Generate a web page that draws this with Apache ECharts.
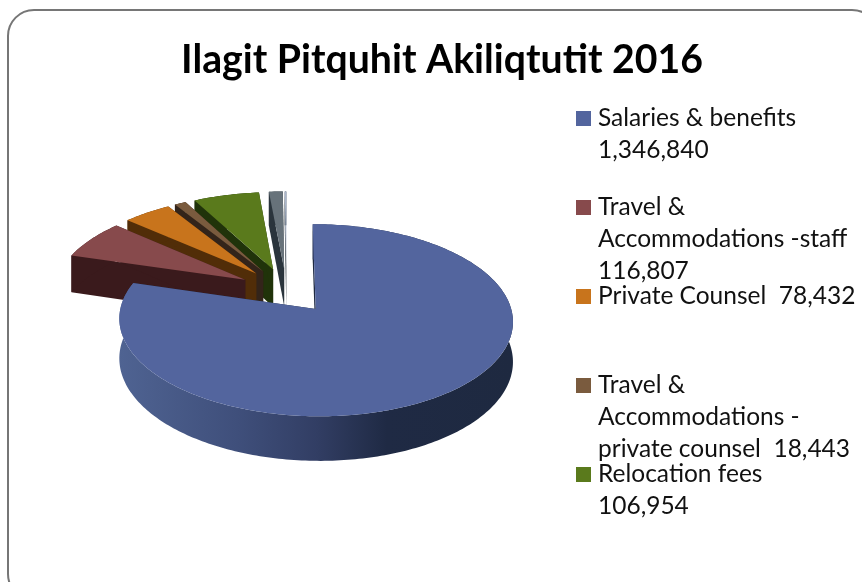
<!DOCTYPE html>
<html><head><meta charset="utf-8">
<style>html,body{margin:0;padding:0;background:#fff}#c{width:862px;height:582px}</style>
<script src="https://cdn.jsdelivr.net/npm/echarts@6/dist/echarts.min.js"></script>
</head><body><div id="c"></div>
<script>
// Data
const titleText = 'Ilagit Pitquhit Akiliqtutit 2016';
const categories = ['Salaries & benefits','Travel & Accommodations -staff','Private Counsel','Travel & Accommodations - private counsel','Relocation fees','Other','Other (small)'];
const values = [1346840,116807,78432,18443,106954,22500,2500];
const legendLines = [
  ['Salaries & benefits','1,346,840'],
  ['Travel &','Accommodations -staff','116,807'],
  ['Private Counsel  78,432'],
  ['Travel &','Accommodations -','private counsel  18,443'],
  ['Relocation fees','106,954']
];
const topColors = ['#53659e','#874a4c','#c8741c','#7a5b3e','#5a7a1c','#67727a','#aab6cc'];
const wallColors = ['#1f2a42','#3a1a1c','#512d08','#33241a','#20330a','#2a343c','#2a343c'];

// Projection of the tilted disc
const CX=286.5, CY=290.5, RX=191, RY=90.5, K=0.1137, DEPTH=38.5, EXPLODE=0.25;
const total = values.reduce((a,b)=>a+b,0);
const slices=[]; let acc=0;
values.forEach(v=>{const a0=acc/total*2*Math.PI; acc+=v; slices.push([a0,acc/total*2*Math.PI]);});
function proj(u,v,z){const w=1/(1+K*v);return [CX+RX*u*w, CY-RY*v*w+(z?DEPTH*w:0)];}
function sliceGeom(i){
  const [a0,a1]=slices[i], m=(a0+a1)/2;
  const ax=EXPLODE*Math.sin(m), ay=EXPLODE*Math.cos(m);
  const n=Math.max(2,Math.ceil((a1-a0)/(Math.PI/180)));
  const arc=[];
  for(let k=0;k<=n;k++){const t=a0+(a1-a0)*k/n;arc.push([ax+Math.sin(t),ay+Math.cos(t)]);}
  return {apex:[ax,ay],arc};
}
const P=(p,z)=>proj(p[0],p[1],z);
function wall(a,b){return [P(a,0),P(b,0),P(b,1),P(a,1)];}

const blueWall={type:'linear',x:0,y:0,x2:1,y2:0,colorStops:[
 {offset:0,color:'#4f6392'},{offset:0.3,color:'#3f4f7b'},{offset:0.5,color:'#323e64'},{offset:0.68,color:'#1f2a44'},{offset:1,color:'#1e2940'}]};

function renderSlice(i){
  return function(){
    const g=sliceGeom(i);
    const kids=[];
    const wc=wallColors[i];
    kids.push({type:'polygon',shape:{points:wall(g.apex,g.arc[0])},style:{fill:wc}});
    kids.push({type:'polygon',shape:{points:wall(g.apex,g.arc[g.arc.length-1])},style:{fill:wc}});
    const topArc=g.arc.map(p=>P(p,0)), botArc=g.arc.map(p=>P(p,1)).reverse();
    kids.push({type:'polygon',shape:{points:topArc.concat(botArc)},style:{fill:i===0?blueWall:wc}});
    kids.push({type:'polygon',shape:{points:[P(g.apex,0)].concat(topArc)},style:{fill:topColors[i]}});
    return {type:'group',children:kids};
  };
}

const order=[6,5,4,3,2,1,0];
const series=order.map(i=>({
  type:'custom',name:categories[i],coordinateSystem:'none',silent:true,
  itemStyle:{color:topColors[i]},
  data:[[values[i]]],renderItem:renderSlice(i),animation:false
}));

const LINE=32, legendIconTop=[111,200,289,378,467];
const legends=legendLines.map((lines,i)=>{
  const blanks=new Array(lines.length-1).fill('').join('\n');
  const txt=(lines.length>1?blanks+'\n':'')+lines.join('\n');
  const h=(2*lines.length-1)*LINE;
  return {
    data:[categories[i]],left:576,top:legendIconTop[i]+7.5-h/2,padding:0,
    itemWidth:15,itemHeight:15,itemGap:0,selectedMode:false,icon:'rect',
    formatter:()=>txt,
    textStyle:{fontFamily:'Lato',fontSize:24.5,color:'#111',lineHeight:LINE,padding:[0,0,0,2]}
  };
});

const chart=echarts.init(document.getElementById('c'),null,{renderer:'canvas'});
chart.setOption({
  animation:false,backgroundColor:'#fff',
  title:{text:titleText,left:442,top:41,textAlign:'center',padding:0,
    textStyle:{fontFamily:'Lato',fontWeight:'bold',fontSize:39.2,color:'#000'}},
  legend:legends,
  graphic:[{type:'rect',z:-1,silent:true,shape:{x:8,y:10,width:870,height:590,r:26},style:{fill:'#fff',stroke:'#767676',lineWidth:2}}],
  series
});
</script></body></html>
